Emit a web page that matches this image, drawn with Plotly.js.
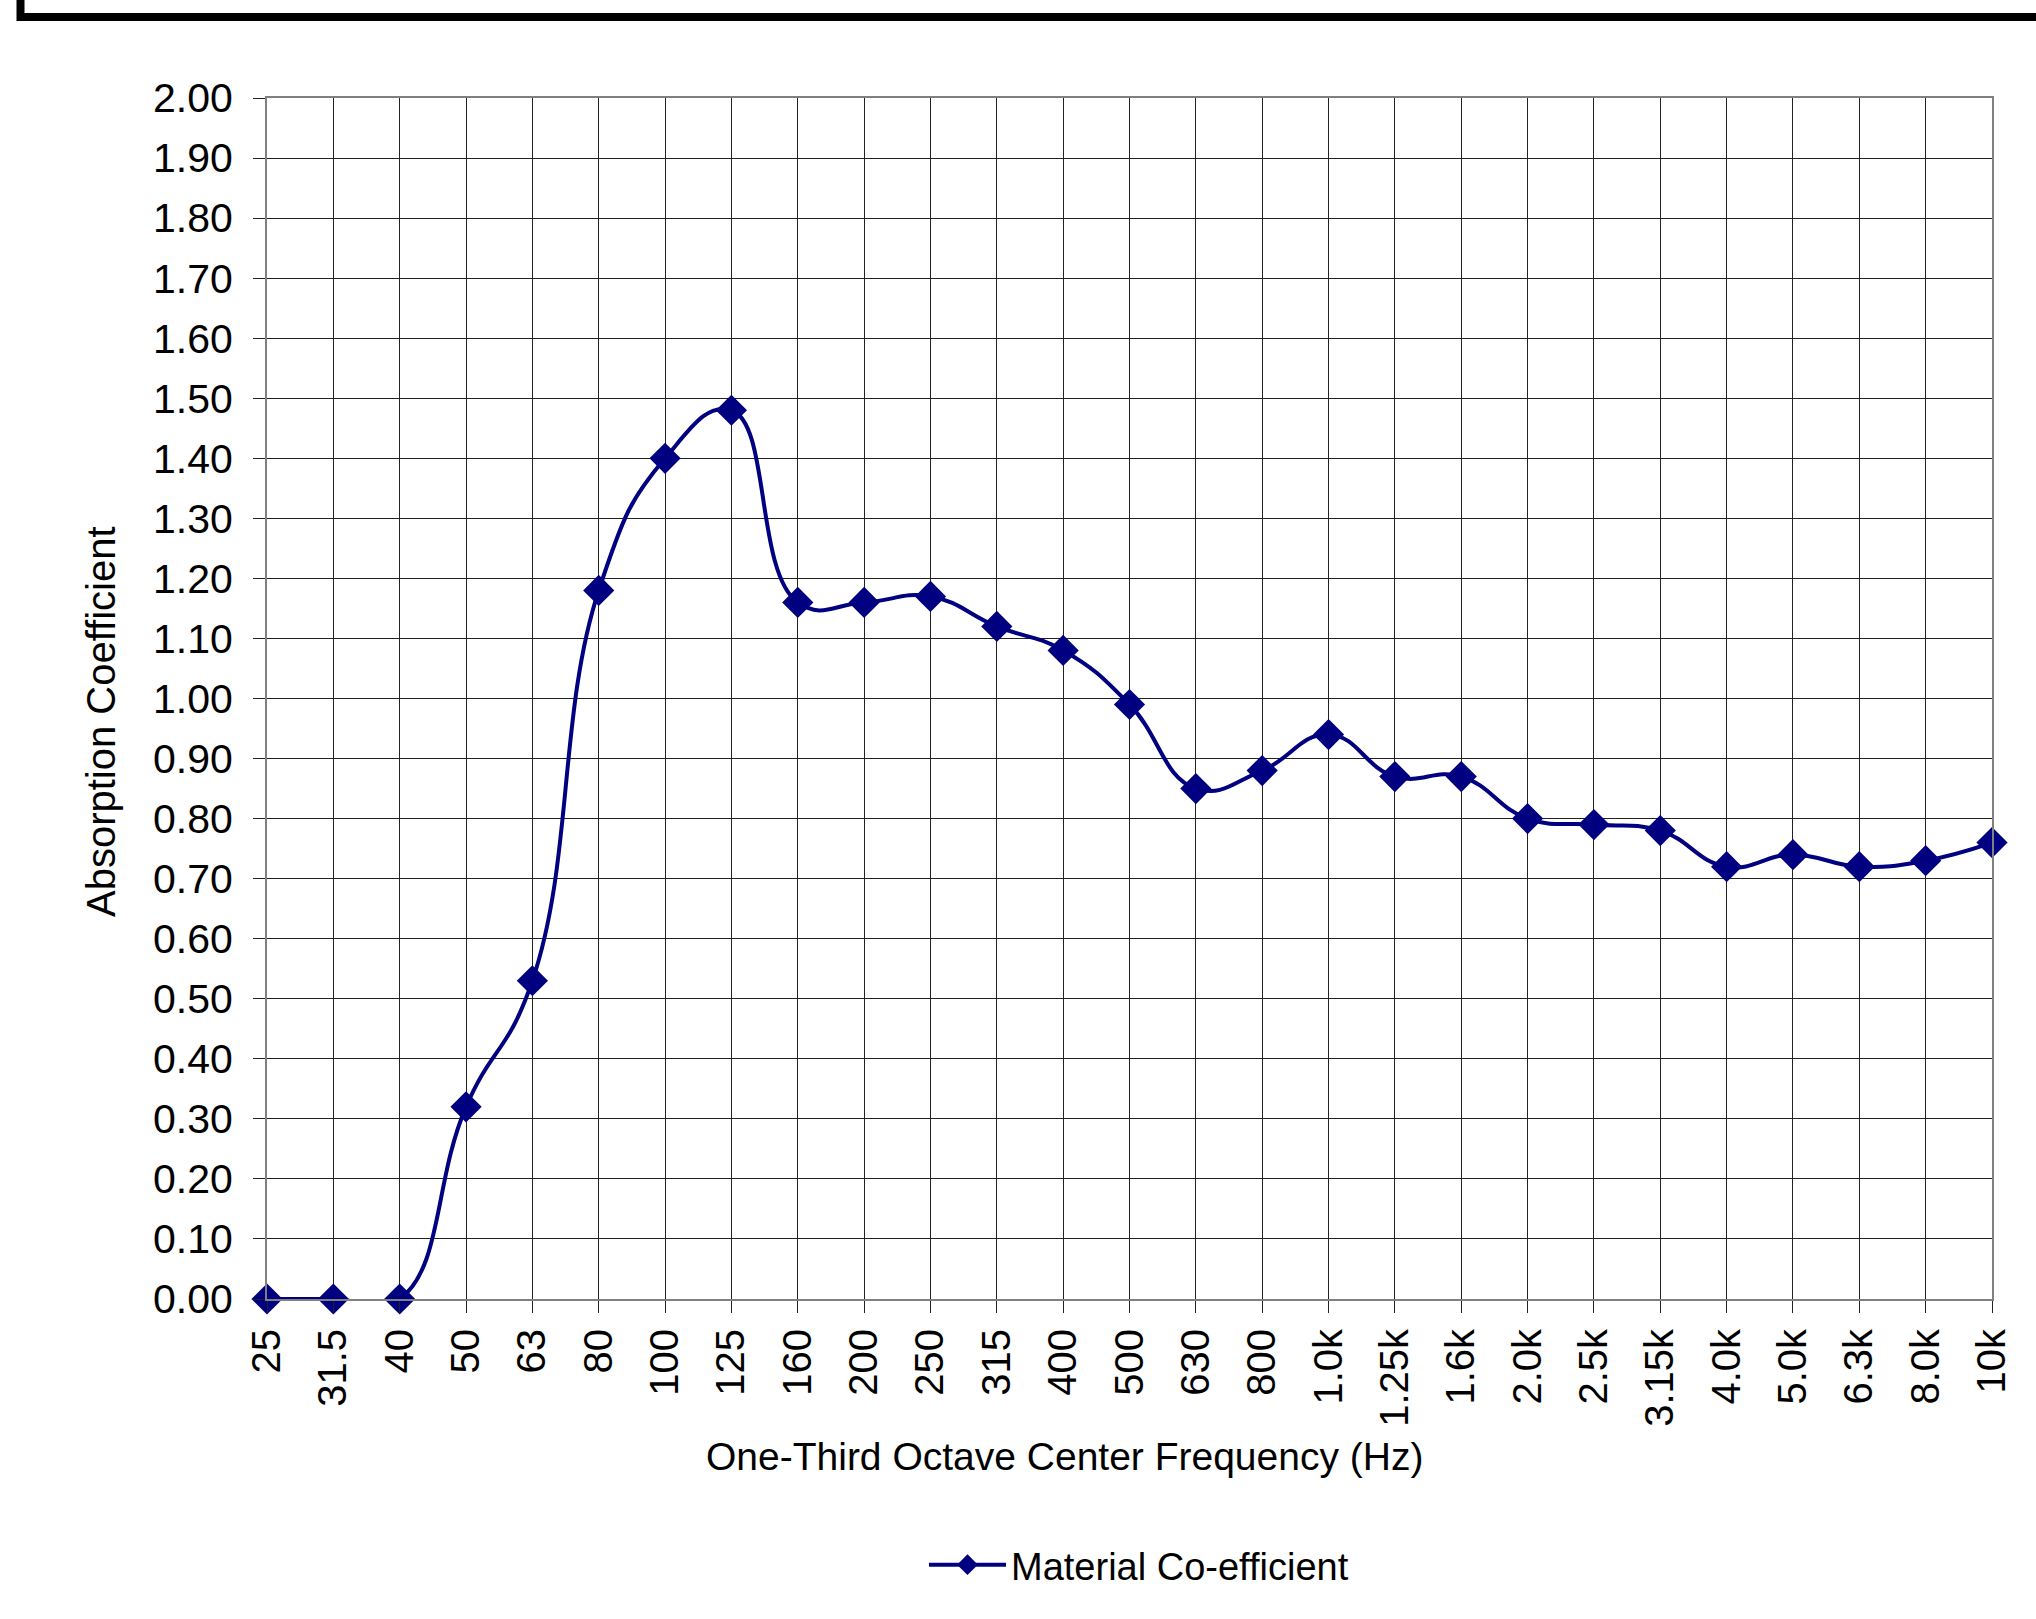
<!DOCTYPE html>
<html>
<head>
<meta charset="utf-8">
<script src="https://cdn.plot.ly/plotly-3.0.1.min.js"></script>
<style>
  html, body { margin: 0; padding: 0; background: #fff; }
  #chart { width: 2036px; height: 1619px; }
</style>
</head>
<body>
<div id="chart"></div>
<script>
const frequencies = ["25", "31.5", "40", "50", "63", "80", "100", "125", "160", "200", "250", "315", "400", "500", "630", "800", "1.0k", "1.25k", "1.6k", "2.0k", "2.5k", "3.15k", "4.0k", "5.0k", "6.3k", "8.0k", "10k"];
const coefficients = [0.00, 0.00, 0.00, 0.32, 0.53, 1.18, 1.40, 1.48, 1.16, 1.16, 1.17, 1.12, 1.08, 0.99, 0.85, 0.88, 0.94, 0.87, 0.87, 0.80, 0.79, 0.78, 0.72, 0.74, 0.72, 0.73, 0.76];
const seriesName = "Material Co-efficient";
const xTitle = "One-Third Octave Center Frequency (Hz)";
const yTitle = "Absorption Coefficient";

const FONT = "Liberation Sans, Arial, Helvetica, sans-serif";
const W = 2036, H = 1619;
const L = 267, T = 98, R = 44, B = 320;
const pw = W - L - R, ph = H - T - B;
const px2x = p => (p - L) / pw;
const py2y = p => (H - B - p) / ph;

const trace = {
  x: frequencies,
  y: coefficients,
  type: "scatter",
  mode: "lines+markers",
  name: seriesName,
  line: { color: "#000080", width: 4, shape: "spline", smoothing: 1.3 },
  marker: { symbol: "diamond", size: 24, color: "#000080" },
  cliponaxis: false
};

const layout = {
  width: W, height: H,
  margin: { l: L, r: R, t: T, b: B, pad: 0 },
  paper_bgcolor: "#ffffff",
  plot_bgcolor: "#ffffff",
  font: { family: FONT, size: 39, color: "#000" },
  showlegend: true,
  legend: {
    orientation: "h",
    x: px2x(924), xanchor: "left",
    y: py2y(1565), yanchor: "middle",
    font: { family: FONT, size: 38, color: "#000" },
    bgcolor: "rgba(0,0,0,0)",
    itemwidth: 77
  },
  xaxis: {
    type: "category",
    range: [0, frequencies.length - 1],
    tickangle: -90,
    ticks: "outside", ticklen: 12, tickwidth: 1, tickcolor: "#222",
    showgrid: true, gridcolor: "#222", gridwidth: 1,
    showline: true, linecolor: "#808080", linewidth: 2, mirror: true,
    tickfont: { family: FONT, size: 40, color: "#000" },
    zeroline: false,
    fixedrange: true
  },
  yaxis: {
    range: [0, 2],
    dtick: 0.1,
    tick0: 0,
    tickformat: ".2f",
    ticks: "outside", ticklen: 12, tickwidth: 1, tickcolor: "#222",
    ticklabelstandoff: 12,
    showgrid: true, gridcolor: "#222", gridwidth: 1,
    showline: true, linecolor: "#808080", linewidth: 2, mirror: true,
    tickfont: { family: FONT, size: 41, color: "#000" },
    zeroline: false,
    fixedrange: true
  },
  annotations: [
    {
      text: xTitle, xref: "paper", yref: "paper",
      x: px2x(1064), y: py2y(1456), xanchor: "center", yanchor: "middle",
      showarrow: false, font: { family: FONT, size: 39, color: "#000" }
    },
    {
      text: yTitle, xref: "paper", yref: "paper",
      x: px2x(101), y: py2y(722), xanchor: "center", yanchor: "middle",
      textangle: -90,
      showarrow: false, font: { family: FONT, size: 40, color: "#000" }
    }
  ],
  shapes: [
    {
      type: "path", xref: "paper", yref: "paper",
      path: "M " + px2x(20.5) + "," + py2y(-40) + " L " + px2x(20.5) + "," + py2y(17) + " L " + px2x(2100) + "," + py2y(17),
      line: { color: "#000", width: 8 }
    }
  ]
};

Plotly.newPlot("chart", [trace], layout, { staticPlot: true, displayModeBar: false });
</script>
</body>
</html>
